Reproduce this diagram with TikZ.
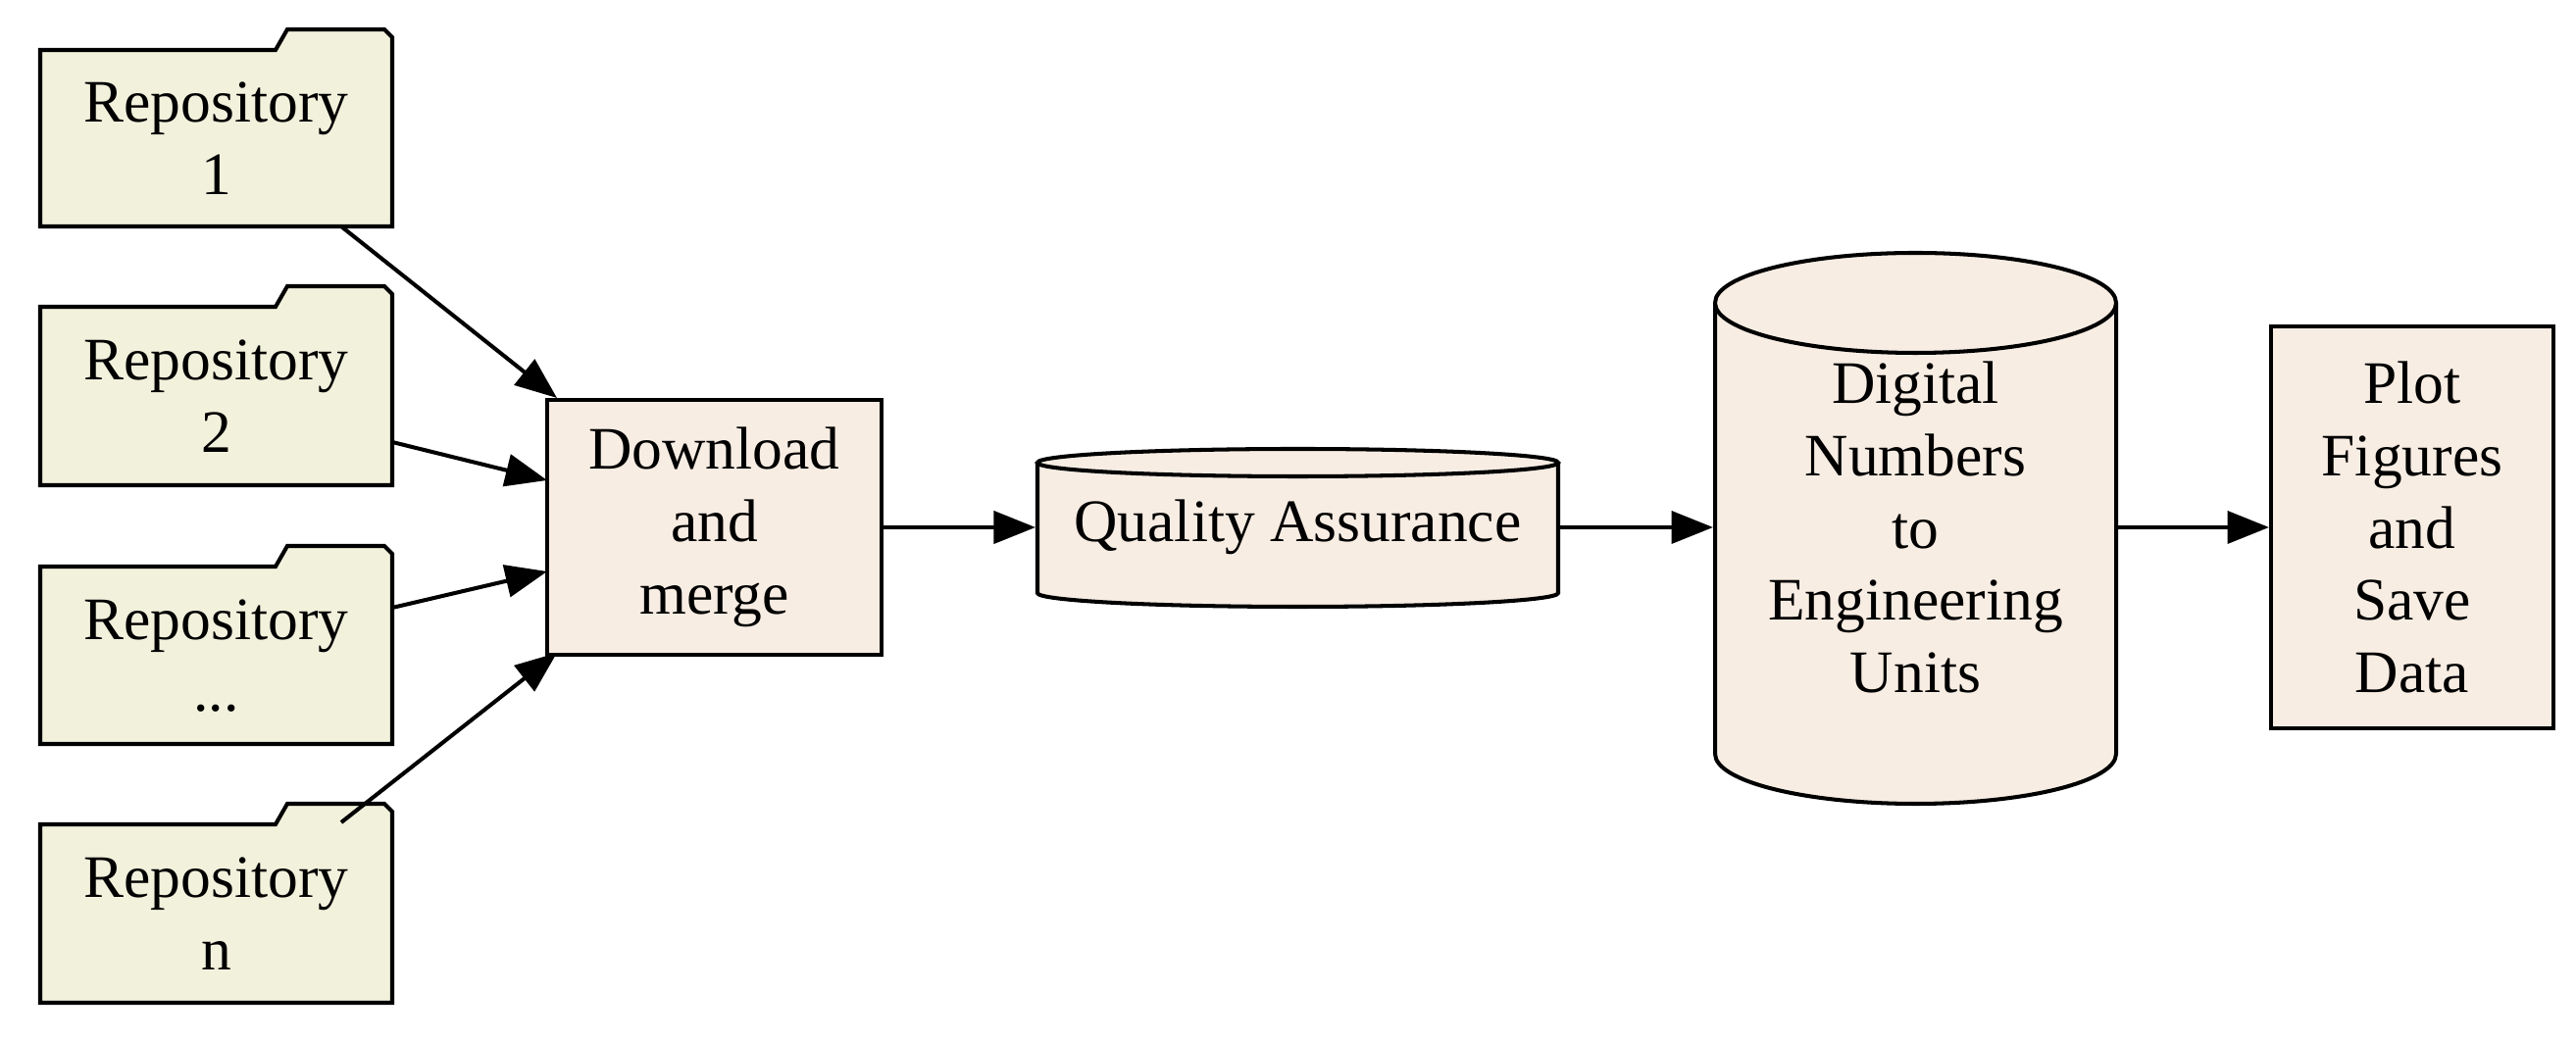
\documentclass[tikz,border=0pt]{standalone}
\usepackage{fontspec}
\setmainfont{Liberation Serif}
\usetikzlibrary{arrows.meta}
\definecolor{folderfill}{HTML}{F2F1DC}
\definecolor{boxfill}{HTML}{F8EDE3}
\begin{document}
\begin{tikzpicture}[x=0.02cm,y=0.02cm,
  line width=2.3pt,
  txt/.style={align=center,font=\fontsize{35}{42}\selectfont,inner sep=0pt},
  arr/.style={-{Triangle[length=0.85cm,width=0.66cm]}},
  fold/.style={draw,fill=folderfill},
  boxs/.style={draw,fill=boxfill}]
\useasboundingbox (0,0) rectangle (2627,1061);
% folders
\foreach \t/\b/\n in {1010/830/1,748/566/2,483/302/3,220/38/4}{
  \draw[fold] (41,\t) -- (281,\t) -- (293,\t+21) -- (392,\t+21) -- (400,\t+13) -- (400,\b) -- (41,\b) -- cycle;
}
\node[txt] (r1) at (220.5,920) {Repository\\1};
\node[txt] (r2) at (220.5,657) {Repository\\2};
\node[txt] (r3) at (220.5,392) {Repository\\...};
\node[txt] (rn) at (220.5,129) {Repository\\n};
% download
\node[boxs,txt,minimum width=341*0.02cm,minimum height=260*0.02cm] (dl) at (728.5,523) {Download\\and\\merge};
% QA cylinder
\draw[boxs] (1058,589) -- (1058,456) arc[start angle=180,end angle=360,x radius=265.5,y radius=14] -- (1589,589);
\draw[boxs] (1323.5,589) ellipse[x radius=265.5,y radius=14];
\node[txt,minimum width=531*0.02cm,minimum height=160*0.02cm] (qa) at (1323.5,523) {Quality Assurance};
% big cylinder
\draw[boxs] (1749,752) -- (1749,292) arc[start angle=180,end angle=360,x radius=204.5,y radius=51] -- (2158,752);
\draw[boxs] (1953.5,752) ellipse[x radius=204.5,y radius=51];
\node[txt,minimum width=409*0.02cm,minimum height=400*0.02cm] (dn) at (1953.5,523) {Digital\\Numbers\\to\\Engineering\\Units};
% plot
\node[boxs,txt,minimum width=288*0.02cm,minimum height=410*0.02cm] (pl) at (2460,523) {Plot\\Figures\\and\\Save\\Data};
% connector endpoints
\coordinate (s1) at (348,830); \coordinate (e1) at (568,655);
\coordinate (s2) at (400,610); \coordinate (e2) at (558,571);
\coordinate (s3) at (400,441); \coordinate (e3) at (558,478);
\coordinate (s4) at (348,222); \coordinate (e4) at (568,395);
\draw[arr] (s1) -- (e1);
\draw[arr] (s2) -- (e2);
\draw[arr] (s3) -- (e3);
\draw[arr] (s4) -- (e4);
\draw[arr] (dl.east) -- (qa.west);
\draw[arr] (qa.east) -- (dn.west);
\draw[arr] (dn.east) -- (pl.west);
\end{tikzpicture}
\end{document}
